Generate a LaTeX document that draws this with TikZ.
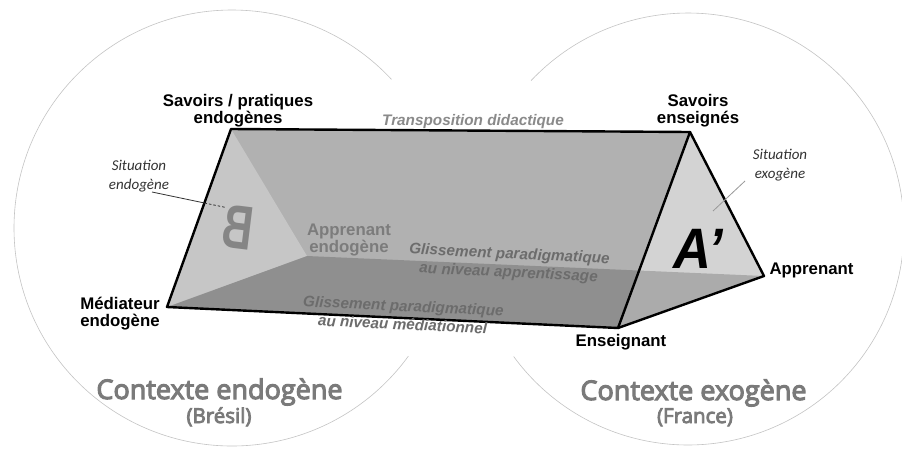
\documentclass[tikz,border=0pt]{standalone}
\usepackage{fontspec}
\setmainfont{Liberation Sans}
\newfontfamily\sitfont{Carlito}
\newfontfamily\ctxfont[FakeBold=4]{Open Sans}
\definecolor{facemid}{HTML}{B1B1B1}
\definecolor{faceB}{HTML}{C6C6C6}
\definecolor{faceA}{HTML}{D3D3D3}
\definecolor{circcol}{HTML}{C4C4C4}
\definecolor{transcol}{HTML}{8A8A8A}
\definecolor{glisscol}{HTML}{6C6C6C}
\definecolor{apendcol}{HTML}{7C7C7C}
\definecolor{sitcol}{HTML}{333333}
\definecolor{ctxcol}{HTML}{7A7A7A}
\definecolor{bcol}{HTML}{858585}
\tikzset{
  every node/.style={inner sep=0pt, outer sep=0pt},
  circ/.style={draw=circcol, line width=0.6pt},
  edge/.style={draw=black, line width=2.4pt, line join=round, line cap=round},
  blab/.style={font=\fontsize{16.8}{17}\selectfont\bfseries, text=black, align=center},
  glab/.style={font=\fontsize{15.3}{18.5}\selectfont\bfseries\itshape, text=glisscol, align=center},
  sitlab/.style={font=\fontsize{15}{18.5}\selectfont\sitfont\itshape, text=sitcol, align=center},
  ctxlab/.style={font=\fontsize{27}{30}\selectfont\ctxfont, text=ctxcol},
  ctxsub/.style={font=\fontsize{20.5}{24}\selectfont\ctxfont, text=ctxcol},
}
\begin{document}
\begin{tikzpicture}[x=1pt,y=-1pt]
\useasboundingbox (0,0) rectangle (902,448);
\fill[white] (0,0) rectangle (902,448);
% context circles
\draw[circ] (232,228) ++(-43:218) arc[start angle=-43, end angle=-324, radius=218];
\draw[circ] (688,229) ++(-136.6:216) arc[start angle=-136.6, end angle=143.8, radius=216];
% prism vertices
\coordinate (SP) at (231,129);
\coordinate (SE) at (690,132);
\coordinate (ME) at (167,307);
\coordinate (EN) at (618,328);
\coordinate (AP) at (764,276);
\coordinate (AE) at (307,256);
% faces
\fill[facemid] (SP) -- (SE) -- (EN) -- (ME) -- cycle;
\fill[faceB] (SP) -- (ME) -- (AE) -- cycle;
\fill[faceA] (SE) -- (EN) -- (AP) -- cycle;
\fill[black, opacity=0.19] (ME) -- (AE) -- (AP) -- (EN) -- cycle;
% B and A'
\node[text=bcol, font=\fontsize{62}{62}\selectfont\bfseries, rotate=-7] (B) at (238,227.5) {\scalebox{-0.68}[1]{B}};
\node[text=black, font=\fontsize{57}{57}\selectfont\bfseries\itshape, anchor=base] (Ap) at (698,268) {\scalebox{0.92}[1]{A\symbol{39}}};
% edges
\draw[edge] (ME) -- (SP) -- (SE) -- (EN) -- cycle;
\draw[edge] (SE) -- (AP) -- (EN);
% situation pointers
\coordinate (s1a) at (152,192);
\coordinate (s1b) at (204.5,203);
\coordinate (s1c) at (225,207.3);
\draw[sitcol, line width=0.8pt] (s1a) -- (s1b);
\draw[sitcol, line width=0.8pt, dash pattern=on 2.5pt off 2pt] (s1b) -- (s1c);
\coordinate (s2a) at (745,181);
\coordinate (s2b) at (713,211);
\draw[gray!80, line width=0.8pt] (s2a) -- (s2b);
% labels
\node[blab] (lSP) at (238,110.5) {Savoirs / pratiques\\endogènes};
\node[blab] (lSE) at (698,111) {Savoirs\\enseignés};
\node[blab] (lME) at (120,314) {Médiateur\\endogène};
\node[blab, anchor=base] (lEN) at (621,346) {Enseignant};
\node[blab, anchor=base] (lAP) at (811.5,274) {Apprenant};
\node[blab, text=apendcol] (lAE) at (349,239.5) {Apprenant\\endogène};
\node[glab, text=transcol, anchor=base] (lTD) at (473,125) {Transposition didactique};
\node[glab, rotate=-2.7] (lG1) at (509,264) {Glissement paradigmatique\\au niveau apprentissage};
\node[glab, rotate=-2.7] (lG2) at (403,315) {Glissement paradigmatique\\au niveau médiationnel};
\node[sitlab] (lS1) at (139,176) {Situation\\endogène};
\node[sitlab] (lS2) at (780,165) {Situation\\exogène};
\node[ctxlab, anchor=base] (c1) at (219.5,399) {Contexte endogène};
\node[ctxsub, anchor=base] (c1s) at (219,423) {(Brésil)};
\node[ctxlab, anchor=base] (c2) at (693.5,400) {Contexte exogène};
\node[ctxsub, anchor=base] (c2s) at (695,423) {(France)};
\end{tikzpicture}
\end{document}
